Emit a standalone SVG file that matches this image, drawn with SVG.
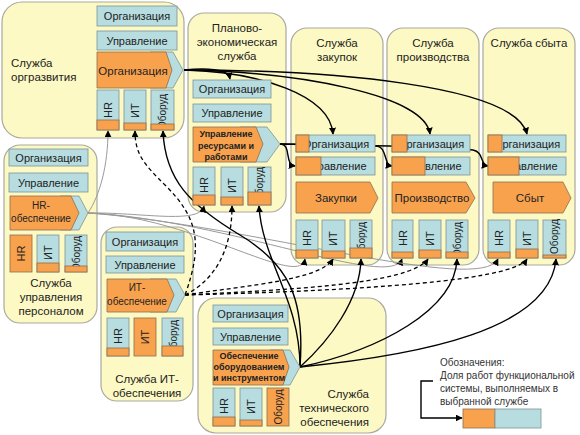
<svg xmlns="http://www.w3.org/2000/svg" width="580" height="435" viewBox="0 0 580 435">
<style>
text{font-family:"Liberation Sans",Arial,sans-serif;fill:#222}
.svc{fill:#FCF9C4;stroke:#A9A9A0;stroke-width:1.2}
.bl{fill:#B7DDE0;stroke:#7E9396;stroke-width:0.8}
.or{fill:#F9A24E;stroke:#8C6E50;stroke-width:0.8}
.t{font-size:11.5px}
.c{text-anchor:middle}
.bx{font-size:11px;text-anchor:middle}
.b9{font-size:9px;font-weight:bold;text-anchor:middle}
.s10{font-size:10px;text-anchor:middle}
.v{font-size:11px}
.vo{font-size:10px}
.k{fill:none;stroke:#000;stroke-width:1.4;marker-end:url(#ah)}
.d{stroke-dasharray:4 3;stroke-width:1.3}
.g{stroke:#9A9A9A;stroke-width:1}
.lg{font-size:10px;fill:#333}
</style>
<defs>
<marker id="ah" viewBox="0 0 10 10" refX="9" refY="5" markerWidth="7" markerHeight="7" orient="auto" markerUnits="userSpaceOnUse"><path d="M0,0 L10,5 L0,10 z" fill="#000"/></marker>
</defs>
<rect width="580" height="435" fill="#fff"/>

<!-- service containers -->
<g id="svc-orgdev"><rect class="svc" x="2" y="2" width="182" height="136" rx="20"/><text class="t" x="11" y="67">Служба</text><text class="t" x="11" y="81">оргразвития</text></g>
<g id="svc-planning"><rect class="svc" x="188" y="13" width="98" height="199" rx="16"/><text class="t c" x="237" y="32">Планово-</text><text class="t c" x="237" y="46">экономическая</text><text class="t c" x="237" y="60">служба</text></g>
<g id="svc-purchase"><rect class="svc" x="291" y="28" width="92" height="237" rx="16"/><text class="t c" x="337" y="47">Служба</text><text class="t c" x="337" y="61">закупок</text></g>
<g id="svc-production"><rect class="svc" x="387" y="28" width="92" height="237" rx="16"/><text class="t c" x="433" y="47">Служба</text><text class="t c" x="433" y="61">производства</text></g>
<g id="svc-sales"><rect class="svc" x="483" y="28" width="92" height="237" rx="16"/><text class="t c" x="529" y="47">Служба сбыта</text></g>
<g id="svc-hr"><rect class="svc" x="4" y="145" width="93" height="178" rx="16"/><text class="t c" x="51" y="287">Служба</text><text class="t c" x="51" y="301">управления</text><text class="t c" x="51" y="315">персоналом</text></g>
<g id="svc-it"><rect class="svc" x="101" y="227" width="92" height="174" rx="16"/><text class="t c" x="147" y="383">Служба ИТ-</text><text class="t c" x="147" y="397">обеспечения</text></g>
<g id="svc-tech"><rect class="svc" x="198" y="298" width="188" height="135" rx="18"/><text class="t" text-anchor="end" x="369" y="398">Служба</text><text class="t" text-anchor="end" x="369" y="412">технического</text><text class="t" text-anchor="end" x="369" y="426">обеспечения</text></g>

<!-- connectors -->
<g id="connectors">
<path class="k" d="M184,70 C205,68 228,68 230,79"/>
<path class="k" d="M184,70 C260,72 330,95 333,134"/>
<path class="k" d="M184,70 C300,72 425,95 430,134"/>
<path class="k" d="M184,70 C330,70 515,85 527,134"/>
<path class="k" d="M280,144 C292,144 284,165 295,166"/>
<path class="k" d="M280,144 L376,146 C388,147 383,165 392,166"/>
<path class="k" d="M280,144 C350,145 440,146 473,150 C484,152 480,165 488,166"/>
<path class="k g" d="M88,213 C100,195 108,165 108,131"/>
<path class="k g" d="M88,213 C140,212 200,225 204,206"/>
<path class="k g" d="M88,213 C190,215 300,290 305,259"/>
<path class="k g" d="M88,213 C230,220 390,290 402,259"/>
<path class="k g" d="M88,213 C250,225 480,295 498,259"/>
<path class="k d" d="M185,295 C205,240 195,215 165,185 C145,165 135,155 135,131"/>
<path class="k d" d="M185,295 C215,280 232,250 232,206"/>
<path class="k d" d="M185,295 C250,285 320,280 333,259"/>
<path class="k d" d="M185,295 C280,290 410,285 428,259"/>
<path class="k d" d="M185,295 C300,292 510,285 527,259"/>
<path class="k" d="M300,367 C305,300 290,265 240,235 C190,205 165,180 163,131"/>
<path class="k" d="M300,367 C300,300 262,260 259,206"/>
<path class="k" d="M300,367 C330,340 360,300 361,259"/>
<path class="k" d="M300,367 C380,350 455,310 457,259"/>
<path class="k" d="M300,367 C420,355 550,330 556,259"/>
<path class="k" stroke-width="1.2" d="M433,381 H421 V418 H462"/>
</g>

<!-- inner boxes -->
<g id="orgdev-boxes">
<rect class="bl" x="97" y="6" width="80" height="20"/><text class="bx" x="137" y="20">Организация</text>
<rect class="bl" x="97" y="31" width="80" height="19"/><text class="bx" x="137" y="44.5">Управление</text>
<polygon class="bl" points="150,52 173,52 183,70 173,88 150,88"/>
<polygon class="or" points="97,52 166,52 172,70 166,88 97,88"/>
<text class="t c" x="133" y="75">Организация</text>
<rect class="bl" x="97" y="90" width="22" height="40"/><text class="v" transform="translate(112,118) rotate(-90)">HR</text><rect class="or" x="97" y="120" width="22" height="10"/>
<rect class="bl" x="124" y="90" width="22" height="40"/><text class="v" transform="translate(139,118) rotate(-90)">ИТ</text><rect class="or" x="124" y="123" width="22" height="7"/>
<rect class="bl" x="151" y="90" width="23" height="40"/><text class="vo" transform="translate(166,129) rotate(-90)">Оборуд</text><rect class="or" x="151" y="124" width="23" height="6"/>
</g>

<g id="planning-boxes">
<rect class="bl" x="193" y="80" width="78" height="18"/><text class="bx" x="232" y="93">Организация</text>
<rect class="bl" x="193" y="104" width="78" height="18"/><text class="bx" x="232" y="117">Управление</text>
<polygon class="bl" points="240,127 267,127 280,144 267,162 240,162"/>
<polygon class="or" points="193,127 256,127 263,144 256,162 193,162"/>
<text class="b9" x="226" y="137">Управление</text><text class="b9" x="226" y="149">ресурсами и</text><text class="b9" x="226" y="160">работами</text>
<rect class="bl" x="193" y="167" width="22" height="38"/><text class="v" transform="translate(208,193) rotate(-90)">HR</text><rect class="or" x="193" y="195" width="22" height="10"/>
<rect class="bl" x="221" y="167" width="22" height="38"/><text class="v" transform="translate(236,193) rotate(-90)">ИТ</text><rect class="or" x="221" y="197" width="22" height="8"/>
<rect class="bl" x="248" y="167" width="23" height="38"/><text class="vo" transform="translate(263,202) rotate(-90)">Оборуд</text><rect class="or" x="248" y="192" width="23" height="13"/>
</g>

<g id="purchase-boxes">
<rect class="bl" x="296" y="135" width="79" height="17"/><text class="bx" x="336" y="147.5">Организация</text><rect class="or" x="296" y="135" width="13" height="17"/>
<rect class="bl" x="296" y="157" width="79" height="18"/><text class="bx" x="336" y="170">Управление</text><rect class="or" x="296" y="157" width="25" height="18"/>
<polygon class="or" points="296,182 370,182 378,198 370,213 296,213"/><text class="t c" x="336" y="202">Закупки</text>
<rect class="bl" x="296" y="220" width="22" height="38"/><text class="v" transform="translate(311,246) rotate(-90)">HR</text><rect class="or" x="296" y="250" width="22" height="8"/>
<rect class="bl" x="322" y="220" width="23" height="38"/><text class="v" transform="translate(337,246) rotate(-90)">ИТ</text><rect class="or" x="322" y="251" width="23" height="7"/>
<rect class="bl" x="350" y="220" width="22" height="38"/><text class="vo" transform="translate(365,257) rotate(-90)">Оборуд</text><rect class="or" x="350" y="248" width="22" height="10"/>
</g>

<g id="production-boxes">
<rect class="bl" x="392" y="135" width="78" height="17"/><text class="bx" x="431" y="147.5">Организация</text><rect class="or" x="392" y="135" width="15" height="17"/>
<rect class="bl" x="392" y="157" width="78" height="18"/><text class="bx" x="431" y="170">Управление</text><rect class="or" x="392" y="157" width="33" height="18"/>
<polygon class="or" points="392,182 466,182 475,198 466,213 392,213"/><text class="t c" x="432" y="202">Производство</text>
<rect class="bl" x="392" y="220" width="21" height="38"/><text class="v" transform="translate(406.5,246) rotate(-90)">HR</text><rect class="or" x="392" y="252" width="21" height="6"/>
<rect class="bl" x="419" y="220" width="22" height="38"/><text class="v" transform="translate(434,246) rotate(-90)">ИТ</text><rect class="or" x="419" y="250" width="22" height="8"/>
<rect class="bl" x="446" y="220" width="22" height="38"/><text class="vo" transform="translate(461,257) rotate(-90)">Оборуд</text><rect class="or" x="446" y="252" width="22" height="6"/>
</g>

<g id="sales-boxes">
<rect class="bl" x="488" y="135" width="78" height="17"/><text class="bx" x="527" y="147.5">Организация</text><rect class="or" x="488" y="135" width="14" height="17"/>
<rect class="bl" x="488" y="157" width="78" height="18"/><text class="bx" x="527" y="170">Управление</text><rect class="or" x="488" y="157" width="31" height="18"/>
<polygon class="or" points="493,182 563,182 571,198 563,213 493,213"/><text class="t c" x="530" y="202">Сбыт</text>
<rect class="bl" x="488" y="220" width="22" height="38"/><text class="v" transform="translate(503,246) rotate(-90)">HR</text><rect class="or" x="488" y="252" width="22" height="6"/>
<rect class="bl" x="516" y="220" width="22" height="38"/><text class="v" transform="translate(531,246) rotate(-90)">ИТ</text><rect class="or" x="516" y="249" width="22" height="9"/>
<rect class="bl" x="543" y="220" width="23" height="38"/><text class="vo" transform="translate(558,254) rotate(-90)">Оборуд</text><rect class="or" x="543" y="255" width="23" height="3"/>
</g>

<g id="hr-boxes">
<rect class="bl" x="9" y="149" width="79" height="17"/><text class="bx" x="48.5" y="161.5">Организация</text>
<rect class="bl" x="9" y="173" width="79" height="19"/><text class="bx" x="48.5" y="186.5">Управление</text>
<polygon class="bl" points="60,196 79,196 88,213 79,230 60,230"/>
<polygon class="or" points="10,196 71,196 79,213 71,230 10,230"/>
<text class="s10" x="41" y="209">HR-</text><text class="s10" x="41" y="222">обеспечение</text>
<rect class="or" x="10" y="235" width="22" height="37"/><text class="v" text-anchor="middle" transform="translate(25,253.5) rotate(-90)">HR</text>
<rect class="bl" x="37" y="235" width="22" height="37"/><text class="v" transform="translate(52,260) rotate(-90)">ИТ</text><rect class="or" x="37" y="263" width="22" height="9"/>
<rect class="bl" x="65" y="235" width="22" height="37"/><text class="vo" transform="translate(80,271) rotate(-90)">Оборуд</text><rect class="or" x="65" y="266" width="22" height="6"/>
</g>

<g id="it-boxes">
<rect class="bl" x="106" y="232" width="78" height="19"/><text class="bx" x="145" y="245.5">Организация</text>
<rect class="bl" x="106" y="256" width="78" height="17"/><text class="bx" x="145" y="268.5">Управление</text>
<polygon class="bl" points="150,279 176,279 185,295 176,312 150,312"/>
<polygon class="or" points="107,279 167,279 174,295 167,312 107,312"/>
<text class="s10" x="137" y="291">ИТ-</text><text class="s10" x="137" y="305">обеспечение</text>
<rect class="bl" x="107" y="318" width="22" height="38"/><text class="v" transform="translate(122,344) rotate(-90)">HR</text><rect class="or" x="107" y="348" width="22" height="8"/>
<rect class="or" x="134" y="318" width="22" height="38"/><text class="v" text-anchor="middle" transform="translate(149,337) rotate(-90)">ИТ</text>
<rect class="bl" x="162" y="318" width="21" height="38"/><text class="vo" transform="translate(176.5,355) rotate(-90)">Оборуд</text><rect class="or" x="162" y="346" width="21" height="10"/>
</g>

<g id="tech-boxes">
<rect class="bl" x="213" y="305" width="75" height="17"/><text class="bx" x="250.5" y="317.5">Организация</text>
<rect class="bl" x="213" y="328" width="75" height="17"/><text class="bx" x="250.5" y="340.5">Управление</text>
<polygon class="bl" points="270,350 290,350 300,367 290,385 270,385"/>
<polygon class="or" points="213,350 283,350 289,367 283,385 213,385"/>
<text class="b9" x="249" y="359">Обеспечение</text><text class="b9" x="249" y="370">оборудованием</text><text class="b9" x="249" y="381">и инструментом</text>
<rect class="bl" x="213" y="388" width="22" height="38"/><text class="v" transform="translate(228,414) rotate(-90)">HR</text><rect class="or" x="213" y="417" width="22" height="9"/>
<rect class="bl" x="240" y="388" width="22" height="38"/><text class="v" transform="translate(255,414) rotate(-90)">ИТ</text><rect class="or" x="240" y="420" width="22" height="6"/>
<rect class="or" x="267" y="388" width="22" height="38"/><text class="vo" text-anchor="middle" transform="translate(281.5,407) rotate(-90)">Оборуд</text>
</g>

<g id="legend">
<text class="lg" x="440" y="366">Обозначения:</text>
<text class="lg" x="440" y="379">Доля работ функциональной</text>
<text class="lg" x="440" y="392">системы, выполняемых в</text>
<text class="lg" x="440" y="405">выбранной службе</text>
<rect class="or" x="463" y="409" width="32" height="19"/>
<rect class="bl" x="495" y="409" width="46" height="19"/>
</g>
</svg>
